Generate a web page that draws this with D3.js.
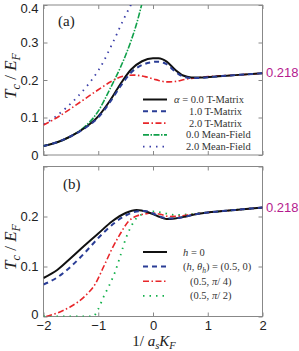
<!DOCTYPE html>
<html>
<head>
<meta charset="utf-8">
<script src="https://cdn.jsdelivr.net/npm/d3@7"></script>
<style>
  body { margin: 0; background: #fff; }
  svg { display: block; }
  .tick text { font-family: "Liberation Sans", Arial, sans-serif; font-size: 13px; fill: #222; }
  .tick line { stroke: #888; }
  .leg { font-family: "Liberation Serif", "Times New Roman", serif; font-size: 10.5px; fill: #333; }
  .math { font-family: "Liberation Serif", "Times New Roman", serif; fill: #222; }
</style>
</head>
<body>
<svg id="chart" width="299" height="351"></svg>
<script>
// x = 1/(a_s K_F), y = Tc/EF
const xTicks = [-2, -1, 0, 1, 2];
const yTicksA = [0, 0.1, 0.2, 0.3, 0.4];
const yTicksB = [0, 0.1, 0.2, 0.3];
const limitValue = 0.218;

// panel (a)
const tm00 = [[-2,0.024],[-1.75,0.034],[-1.5,0.05],[-1.25,0.072],[-1,0.103],[-0.8,0.142],[-0.6,0.188],[-0.4,0.228],[-0.2,0.25],[0,0.258],[0.1,0.258],[0.25,0.249],[0.4,0.228],[0.55,0.212],[0.7,0.207],[0.9,0.207],[1.2,0.21],[1.5,0.213],[2,0.218]];
const tm10 = [[-2,0.024],[-1.75,0.034],[-1.5,0.05],[-1.25,0.071],[-1,0.1],[-0.8,0.138],[-0.6,0.182],[-0.4,0.22],[-0.2,0.24],[0,0.248],[0.1,0.249],[0.25,0.242],[0.4,0.223],[0.55,0.209],[0.7,0.205],[0.9,0.206],[1.2,0.21],[1.5,0.213],[2,0.218]];
const tm20 = [[-2,0.08],[-1.75,0.1],[-1.5,0.124],[-1.25,0.149],[-1,0.174],[-0.75,0.197],[-0.55,0.21],[-0.35,0.213],[-0.15,0.209],[0.05,0.201],[0.25,0.195],[0.4,0.196],[0.6,0.202],[0.8,0.206],[1,0.209],[1.5,0.213],[2,0.218]];
const mf00 = [[-2,0.024],[-1.75,0.034],[-1.5,0.05],[-1.25,0.075],[-1.1,0.097],[-1,0.117],[-0.9,0.143],[-0.8,0.172],[-0.7,0.201],[-0.6,0.232],[-0.5,0.266],[-0.4,0.305],[-0.3,0.35],[-0.2,0.405],[-0.15,0.435]];
const mf20 = [[-2,0.082],[-1.8,0.1],[-1.6,0.124],[-1.4,0.152],[-1.2,0.185],[-1,0.225],[-0.9,0.25],[-0.8,0.28],[-0.7,0.31],[-0.6,0.342],[-0.5,0.373],[-0.4,0.402],[-0.35,0.42]];

// panel (b)
const h0 = [[-2,0.077],[-1.75,0.093],[-1.5,0.117],[-1.25,0.142],[-1,0.166],[-0.75,0.19],[-0.5,0.207],[-0.3,0.213],[-0.1,0.209],[0.1,0.2],[0.25,0.195],[0.4,0.196],[0.6,0.2],[0.8,0.205],[1,0.208],[1.5,0.213],[2,0.218]];
const h05t0 = [[-2,0.064],[-1.75,0.078],[-1.5,0.1],[-1.25,0.127],[-1,0.157],[-0.75,0.183],[-0.5,0.202],[-0.3,0.21],[-0.15,0.211],[0,0.206],[0.15,0.199],[0.3,0.196],[0.45,0.197],[0.6,0.2],[0.8,0.205],[1,0.208],[1.5,0.213],[2,0.218]];
const h05t4 = [[-1.95,0],[-1.75,0.007],[-1.5,0.02],[-1.25,0.04],[-1.05,0.066],[-0.9,0.1],[-0.75,0.135],[-0.6,0.165],[-0.45,0.19],[-0.3,0.201],[-0.15,0.205],[0,0.207],[0.15,0.204],[0.3,0.2],[0.5,0.201],[0.7,0.204],[1,0.208],[1.5,0.213],[2,0.218]];
const h05t2 = [[-2,0],[-1.5,0],[-1.1,0],[-1,0.015],[-0.9,0.04],[-0.8,0.062],[-0.7,0.087],[-0.6,0.12],[-0.5,0.155],[-0.4,0.18],[-0.3,0.197],[-0.15,0.206],[0,0.21],[0.2,0.207],[0.4,0.203],[0.6,0.204],[0.8,0.206],[1,0.208],[1.5,0.213],[2,0.218]];

const svg = d3.select('#chart');
const x = d3.scaleLinear().domain([-2, 2]).range([43.5, 262.5]);
const yA = d3.scaleLinear().domain([0, 0.4]).range([155, 5]);
const yB = d3.scaleLinear().domain([0, 0.3]).range([316.5, 166.5]);

const fmt = d => d === 0 ? '0' : d3.format('.1f')(d);

function frame(y, yTicks, yFmt, showX) {
  const g = svg.append('g');
  const [y0, y1] = y.range();
  g.append('g').attr('class', 'y-left').attr('transform', `translate(43.5,0)`)
    .call(d3.axisLeft(y).tickValues(yTicks).tickSize(-4).tickPadding(5).tickFormat(yFmt));
  g.append('g').attr('transform', `translate(262.5,0)`)
    .call(d3.axisRight(y).tickValues(yTicks).tickSize(-4).tickFormat(''));
  g.append('g').attr('transform', `translate(0,${y1})`)
    .call(d3.axisTop(x).tickValues(xTicks).tickSize(-4).tickFormat(''));
  g.append('g').attr('transform', `translate(0,${y0})`)
    .call(d3.axisBottom(x).tickValues(xTicks).tickSize(-4).tickPadding(4).tickFormat(showX ? d3.format('d') : ''));
  g.selectAll('.domain').remove();
  g.append('rect').attr('x', 43.5).attr('y', y1).attr('width', 219).attr('height', y0 - y1)
    .attr('fill', 'none').attr('stroke', '#888').attr('stroke-width', 1);
  return g;
}

const gA = frame(yA, yTicksA, fmt, false);
// top label sits against the edge, nudge it in a bit
gA.selectAll('.y-left .tick text').filter(d => d === 0.4).attr('dy', '0.55em');
const gB = frame(yB, yTicksB, d => d === 0.3 ? '' : fmt(d), true);
// keep the zero clear of the "-2" below it
gB.selectAll('.y-left .tick text').filter(d => d === 0).attr('dy', '0.12em');

svg.append('clipPath').attr('id', 'clipA').append('rect').attr('x', 43.5).attr('y', 5).attr('width', 219).attr('height', 150);
svg.append('clipPath').attr('id', 'clipB').append('rect').attr('x', 43.5).attr('y', 166.5).attr('width', 219).attr('height', 150);

const styles = {
  black: { color: '#111', width: 2, dash: null },
  blueDash: { color: '#2a3d96', width: 2, dash: '5,4' },
  redDashDot: { color: '#e8262a', width: 1.6, dash: '6,2.5,1.5,2.5' },
  greenDashDot: { color: '#10a04a', width: 1.6, dash: '6,1.5,1.5,1.5' },
  blueDot: { color: '#3b3fa8', width: 1.8, dash: '1.5,5' },
  greenDot: { color: '#12b04a', width: 1.8, dash: '1.5,5' }
};

function draw(data, y, st, clip) {
  const line = d3.line().x(d => x(d[0])).y(d => y(d[1])).curve(d3.curveMonotoneX);
  svg.append('path').datum(data).attr('clip-path', `url(#${clip})`)
    .attr('d', line).attr('fill', 'none')
    .attr('stroke', st.color).attr('stroke-width', st.width)
    .attr('stroke-dasharray', st.dash);
}

draw(mf20, yA, styles.blueDot, 'clipA');
draw(mf00, yA, styles.greenDashDot, 'clipA');
draw(tm20, yA, styles.redDashDot, 'clipA');
draw(tm00, yA, styles.black, 'clipA');
draw(tm10, yA, styles.blueDash, 'clipA');

draw(h05t2, yB, styles.greenDot, 'clipB');
draw(h05t4, yB, styles.redDashDot, 'clipB');
draw(h0, yB, styles.black, 'clipB');
draw(h05t0, yB, styles.blueDash, 'clipB');

// legends
function legendLine(st, yy) {
  svg.append('line').attr('x1', 143).attr('x2', 167).attr('y1', yy).attr('y2', yy)
    .attr('stroke', st.color).attr('stroke-width', st.width).attr('stroke-dasharray', st.dash);
}
const legA = [
  [styles.black, 174, [['α', true], [' = 0.0 T-Matrix', false]]],
  [styles.blueDash, 189, [['1.0 T-Matrix', false]]],
  [styles.redDashDot, 189, [['2.0 T-Matrix', false]]],
  [styles.greenDashDot, 186, [['0.0 Mean-Field', false]]],
  [styles.blueDot, 186, [['2.0 Mean-Field', false]]]
];
legA.forEach((r, i) => {
  const yy = 99.5 + i * 11.8;
  legendLine(r[0], yy);
  const t = svg.append('text').attr('class', 'leg').attr('x', r[1]).attr('y', yy + 3.5);
  r[2].forEach(p => t.append('tspan').attr('font-style', p[1] ? 'italic' : null).text(p[0]));
});

const legB = [
  [styles.black, 183, [['h', 'i'], [' = 0', '']]],
  [styles.blueDash, 183, [['(', ''], ['h', 'i'], [', ', ''], ['θ', 'i'], ['h', 's'], [') = (0.5, 0)', '']]],
  [styles.redDashDot, 190, [['(0.5, ', ''], ['π', 'i'], ['/ 4)', '']]],
  [styles.greenDot, 190, [['(0.5, ', ''], ['π', 'i'], ['/ 2)', '']]]
];
legB.forEach((r, i) => {
  const yy = 252 + i * 14.6;
  legendLine(r[0], yy);
  const t = svg.append('text').attr('class', 'leg').attr('x', r[1]).attr('y', yy + 3.5);
  r[2].forEach(p => {
    const s = t.append('tspan').text(p[0]);
    if (p[1] === 'i') s.attr('font-style', 'italic');
    if (p[1] === 's') s.attr('font-style', 'italic').attr('font-size', '7.5px').attr('dy', 2.5);
    else if (s.node().previousSibling && d3.select(s.node().previousSibling).attr('dy')) s.attr('dy', -2.5);
  });
});

// panel tags
svg.append('text').attr('class', 'math').attr('x', 58).attr('y', 26).attr('font-size', 15).text('(a)');
svg.append('text').attr('class', 'math').attr('x', 63).attr('y', 189).attr('font-size', 15).text('(b)');

// limit value
[yA, yB].forEach(y => {
  svg.append('text').attr('x', 266).attr('y', y(limitValue) + 4)
    .attr('font-family', '"Liberation Sans", Arial, sans-serif').attr('font-size', 13)
    .attr('fill', '#b51a8e').text(limitValue);
});

// y labels
function yLabel(cy) {
  const t = svg.append('text').attr('class', 'math').attr('font-size', 17)
    .attr('text-anchor', 'middle').attr('transform', `translate(16,${cy}) rotate(-90)`);
  t.append('tspan').attr('font-style', 'italic').text('T');
  t.append('tspan').attr('font-style', 'italic').attr('font-size', 12).attr('dy', 4).text('c');
  t.append('tspan').attr('dy', -4).text(' / ');
  t.append('tspan').attr('font-style', 'italic').text('E');
  t.append('tspan').attr('font-style', 'italic').attr('font-size', 12).attr('dy', 4).text('F');
}
yLabel(76);
yLabel(247);

// x label
const xl = svg.append('text').attr('class', 'math').attr('font-size', 15)
  .attr('text-anchor', 'middle').attr('x', 154).attr('y', 346);
xl.append('tspan').text('1/ ');
xl.append('tspan').attr('font-style', 'italic').text('a');
xl.append('tspan').attr('font-style', 'italic').attr('font-size', 10.5).attr('dy', 2.5).text('s');
xl.append('tspan').attr('font-style', 'italic').attr('dy', -2.5).text('K');
xl.append('tspan').attr('font-style', 'italic').attr('font-size', 10.5).attr('dy', 2.5).text('F');
</script>
</body>
</html>
